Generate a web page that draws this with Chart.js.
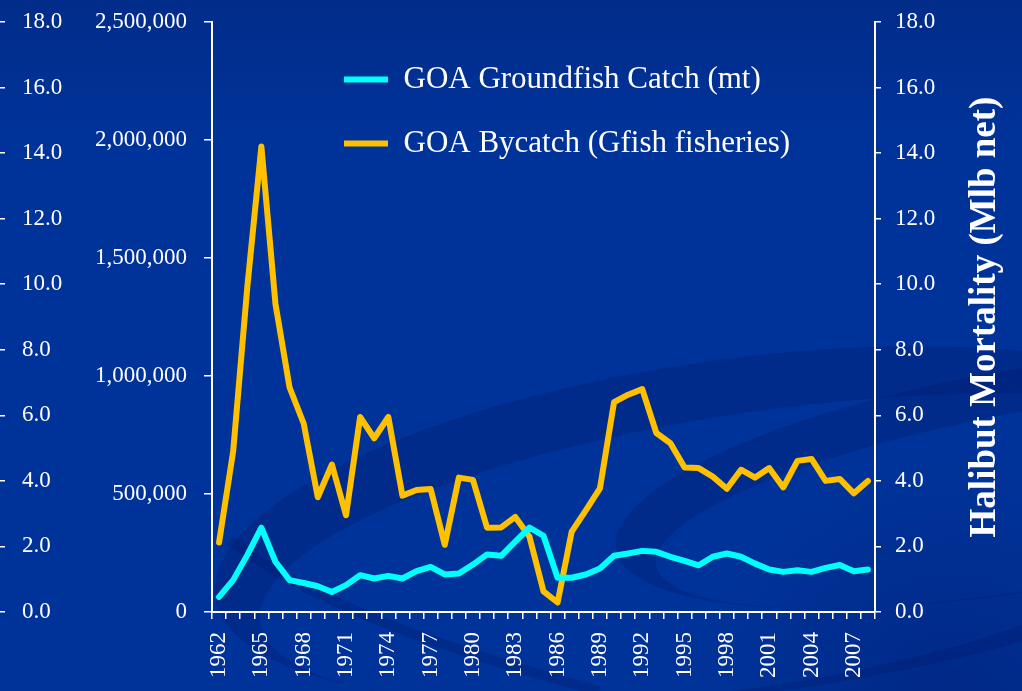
<!DOCTYPE html>
<html>
<head>
<meta charset="utf-8">
<script src="https://cdn.jsdelivr.net/npm/chart.js@4/dist/chart.umd.min.js"></script>
<style>
  html, body { margin: 0; padding: 0; background: #003399; overflow: hidden; }
  #wrap { width: 1022px; height: 691px; position: relative; }
</style>
</head>
<body>
<div id="wrap"><canvas id="c" width="1022" height="691"></canvas></div>
<script>
// ---------- DATA ----------
const years = ['1962','1963','1964','1965','1966','1967','1968','1969','1970','1971',
  '1972','1973','1974','1975','1976','1977','1978','1979','1980','1981',
  '1982','1983','1984','1985','1986','1987','1988','1989','1990','1991',
  '1992','1993','1994','1995','1996','1997','1998','1999','2000','2001',
  '2002','2003','2004','2005','2006','2007','2008'];
const shownYears = ['1962','1965','1968','1971','1974','1977','1980','1983','1986',
  '1989','1992','1995','1998','2001','2004','2007'];
// GOA groundfish catch (mt)
const groundfishCatch = [64000,135000,241000,357000,213000,135000,123000,109000,85000,114000,
  156000,142000,153000,142000,173000,191000,159000,163000,201000,244000,
  238000,298000,358000,323000,145000,145000,159000,184000,238000,248000,
  259000,255000,234000,217000,198000,234000,248000,234000,205000,180000,
  170000,177000,170000,187000,199000,173000,180000];
// GOA halibut bycatch in groundfish fisheries (Mlb net)
const halibutBycatch = [2.12,4.9,9.9,14.2,9.4,6.85,5.75,3.5,4.5,2.95,
  5.95,5.3,5.95,3.55,3.72,3.75,2.05,4.1,4.03,2.57,
  2.58,2.9,2.3,0.63,0.29,2.45,3.1,3.77,6.4,6.63,
  6.8,5.46,5.15,4.41,4.39,4.13,3.76,4.34,4.1,4.39,
  3.8,4.61,4.67,4.0,4.06,3.62,4.0];
const catchTicks = [0, 500000, 1000000, 1500000, 2000000, 2500000];
const mortalityTicks = [0, 2, 4, 6, 8, 10, 12, 14, 16, 18];
const seriesNames = ['GOA Groundfish Catch (mt)', 'GOA Bycatch (Gfish fisheries)'];
const rightAxisTitle = 'Halibut Mortality (Mlb net)';

// ---------- STYLE ----------
const SERIF = '"Liberation Serif", "DejaVu Serif", serif';
const WHITE = '#ffffff';
const tickFont = { family: SERIF, size: 23 };

const bgPlugin = {
  id: 'bg',
  beforeDraw(chart) {
    const ctx = chart.ctx, W = chart.width, H = chart.height;
    ctx.save();
    const g = ctx.createLinearGradient(0, 0, 0, 140);
    g.addColorStop(0, '#012c8a');
    g.addColorStop(1, '#003399');
    ctx.fillStyle = g;
    ctx.fillRect(0, 0, W, H);
    ctx.fillStyle = 'rgba(0,20,100,0.25)';
    // crescent 1
    ctx.beginPath();
    ctx.ellipse(730, 525, 520, 165, -0.14, 0, Math.PI * 2);
    ctx.ellipse(775, 550, 520, 140, -0.14, 0, Math.PI * 2);
    ctx.fill('evenodd');
    // crescent 2
    ctx.beginPath();
    ctx.ellipse(1020, 480, 410, 110, -0.17, 0, Math.PI * 2);
    ctx.ellipse(1060, 496, 410, 90, -0.17, 0, Math.PI * 2);
    ctx.fill('evenodd');
    // lower-left swoosh
    ctx.strokeStyle = 'rgba(0,20,100,0.25)';
    ctx.lineWidth = 10;
    ctx.beginPath();
    ctx.moveTo(230, 540);
    ctx.quadraticCurveTo(330, 620, 600, 691);
    ctx.stroke();
    // bottom-right shade
    const r = ctx.createRadialGradient(950, 720, 10, 950, 720, 260);
    r.addColorStop(0, 'rgba(0,20,100,0.35)');
    r.addColorStop(1, 'rgba(0,20,100,0)');
    ctx.fillStyle = r;
    ctx.fillRect(600, 450, W - 600, H - 450);
    ctx.restore();
  }
};

const legendPlacer = {
  id: 'legendPlacer',
  afterLayout(chart) {
    const lg = chart.legend;
    if (!lg) return;
    lg.left = 311;
    lg.top = 31;
    lg.right = chart.width;
    lg.bottom = chart.height;
  }
};

const rightTitlePlugin = {
  id: 'rightTitle',
  afterDraw(chart) {
    const s = chart.scales.yMort;
    const ctx = chart.ctx;
    ctx.save();
    ctx.translate(s.right - 37, (chart.chartArea.top + chart.chartArea.bottom) / 2);
    ctx.rotate(-Math.PI / 2);
    ctx.font = 'bold 37px ' + SERIF;
    ctx.fillStyle = WHITE;
    ctx.textAlign = 'center';
    ctx.textBaseline = 'middle';
    ctx.fillText(rightAxisTitle, 0, 0);
    ctx.restore();
  }
};

function trimVertical(width) {
  return function (s) {
    s.width = width;
    s.paddingTop = 0;
    s.paddingBottom = 0;
  };
}

new Chart(document.getElementById('c'), {
  type: 'line',
  data: {
    labels: years,
    datasets: [
      {
        label: seriesNames[0], data: groundfishCatch, yAxisID: 'yCatch',
        borderColor: '#00ffff', backgroundColor: '#00ffff', borderWidth: 6,
        pointRadius: 0, borderCapStyle: 'round', borderJoinStyle: 'round', tension: 0
      },
      {
        label: seriesNames[1], data: halibutBycatch, yAxisID: 'yMort',
        borderColor: '#ffc000', backgroundColor: '#ffc000', borderWidth: 6,
        pointRadius: 0, borderCapStyle: 'round', borderJoinStyle: 'round', tension: 0
      }
    ]
  },
  options: {
    responsive: false,
    animation: false,
    devicePixelRatio: 1,
    layout: { padding: { top: 22, left: 0, right: 0, bottom: 0 } },
    plugins: {
      tooltip: { enabled: false },
      legend: {
        position: 'chartArea',
        align: 'start',
        labels: {
          color: WHITE,
          font: { family: SERIF, size: 31 },
          usePointStyle: true,
          pointStyle: 'line',
          pointStyleWidth: 44,
          padding: 33
        }
      }
    },
    scales: {
      x: {
        type: 'category',
        offset: true,
        grid: { offset: true, drawOnChartArea: false, drawTicks: true, tickLength: 7, color: WHITE, lineWidth: 1.5 },
        border: { color: WHITE, width: 2 },
        ticks: {
          autoSkip: false, minRotation: 90, maxRotation: 90, padding: 13,
          color: WHITE, font: tickFont,
          callback: function (v) { const l = this.getLabelForValue(v); return shownYears.includes(l) ? l : ''; }
        },
        afterFit(s) { s.height = 79; s.paddingLeft = 0; s.paddingRight = 0; }
      },
      yCatch: {
        position: 'left',
        min: 0, max: 2500000,
        afterBuildTicks(s) { s.ticks = catchTicks.map(v => ({ value: v })); },
        grid: { drawOnChartArea: false, tickLength: 8, color: WHITE, lineWidth: 1.5 },
        border: { color: WHITE, width: 2 },
        ticks: { color: WHITE, font: tickFont, padding: 17, callback: v => v.toLocaleString('en-US') },
        afterFit: trimVertical(207)
      },
      yFarLeft: {
        position: 'left',
        weight: 1,
        min: 0, max: 18,
        afterBuildTicks(s) { s.ticks = mortalityTicks.map(v => ({ value: v })); },
        grid: { drawOnChartArea: false, tickLength: 5, color: WHITE, lineWidth: 1.5 },
        border: { display: false },
        ticks: { mirror: true, color: WHITE, font: tickFont, padding: 17, callback: v => v.toFixed(1) },
        afterFit: trimVertical(5)
      },
      yMort: {
        position: 'right',
        min: 0, max: 18,
        afterBuildTicks(s) { s.ticks = mortalityTicks.map(v => ({ value: v })); },
        grid: { drawOnChartArea: false, tickLength: 6, color: WHITE, lineWidth: 1.5 },
        border: { color: WHITE, width: 2 },
        ticks: { color: WHITE, font: tickFont, padding: 14, callback: v => v.toFixed(1) },
        afterFit: trimVertical(147)
      }
    }
  },
  plugins: [bgPlugin, legendPlacer, rightTitlePlugin]
});
</script>
</body>
</html>
